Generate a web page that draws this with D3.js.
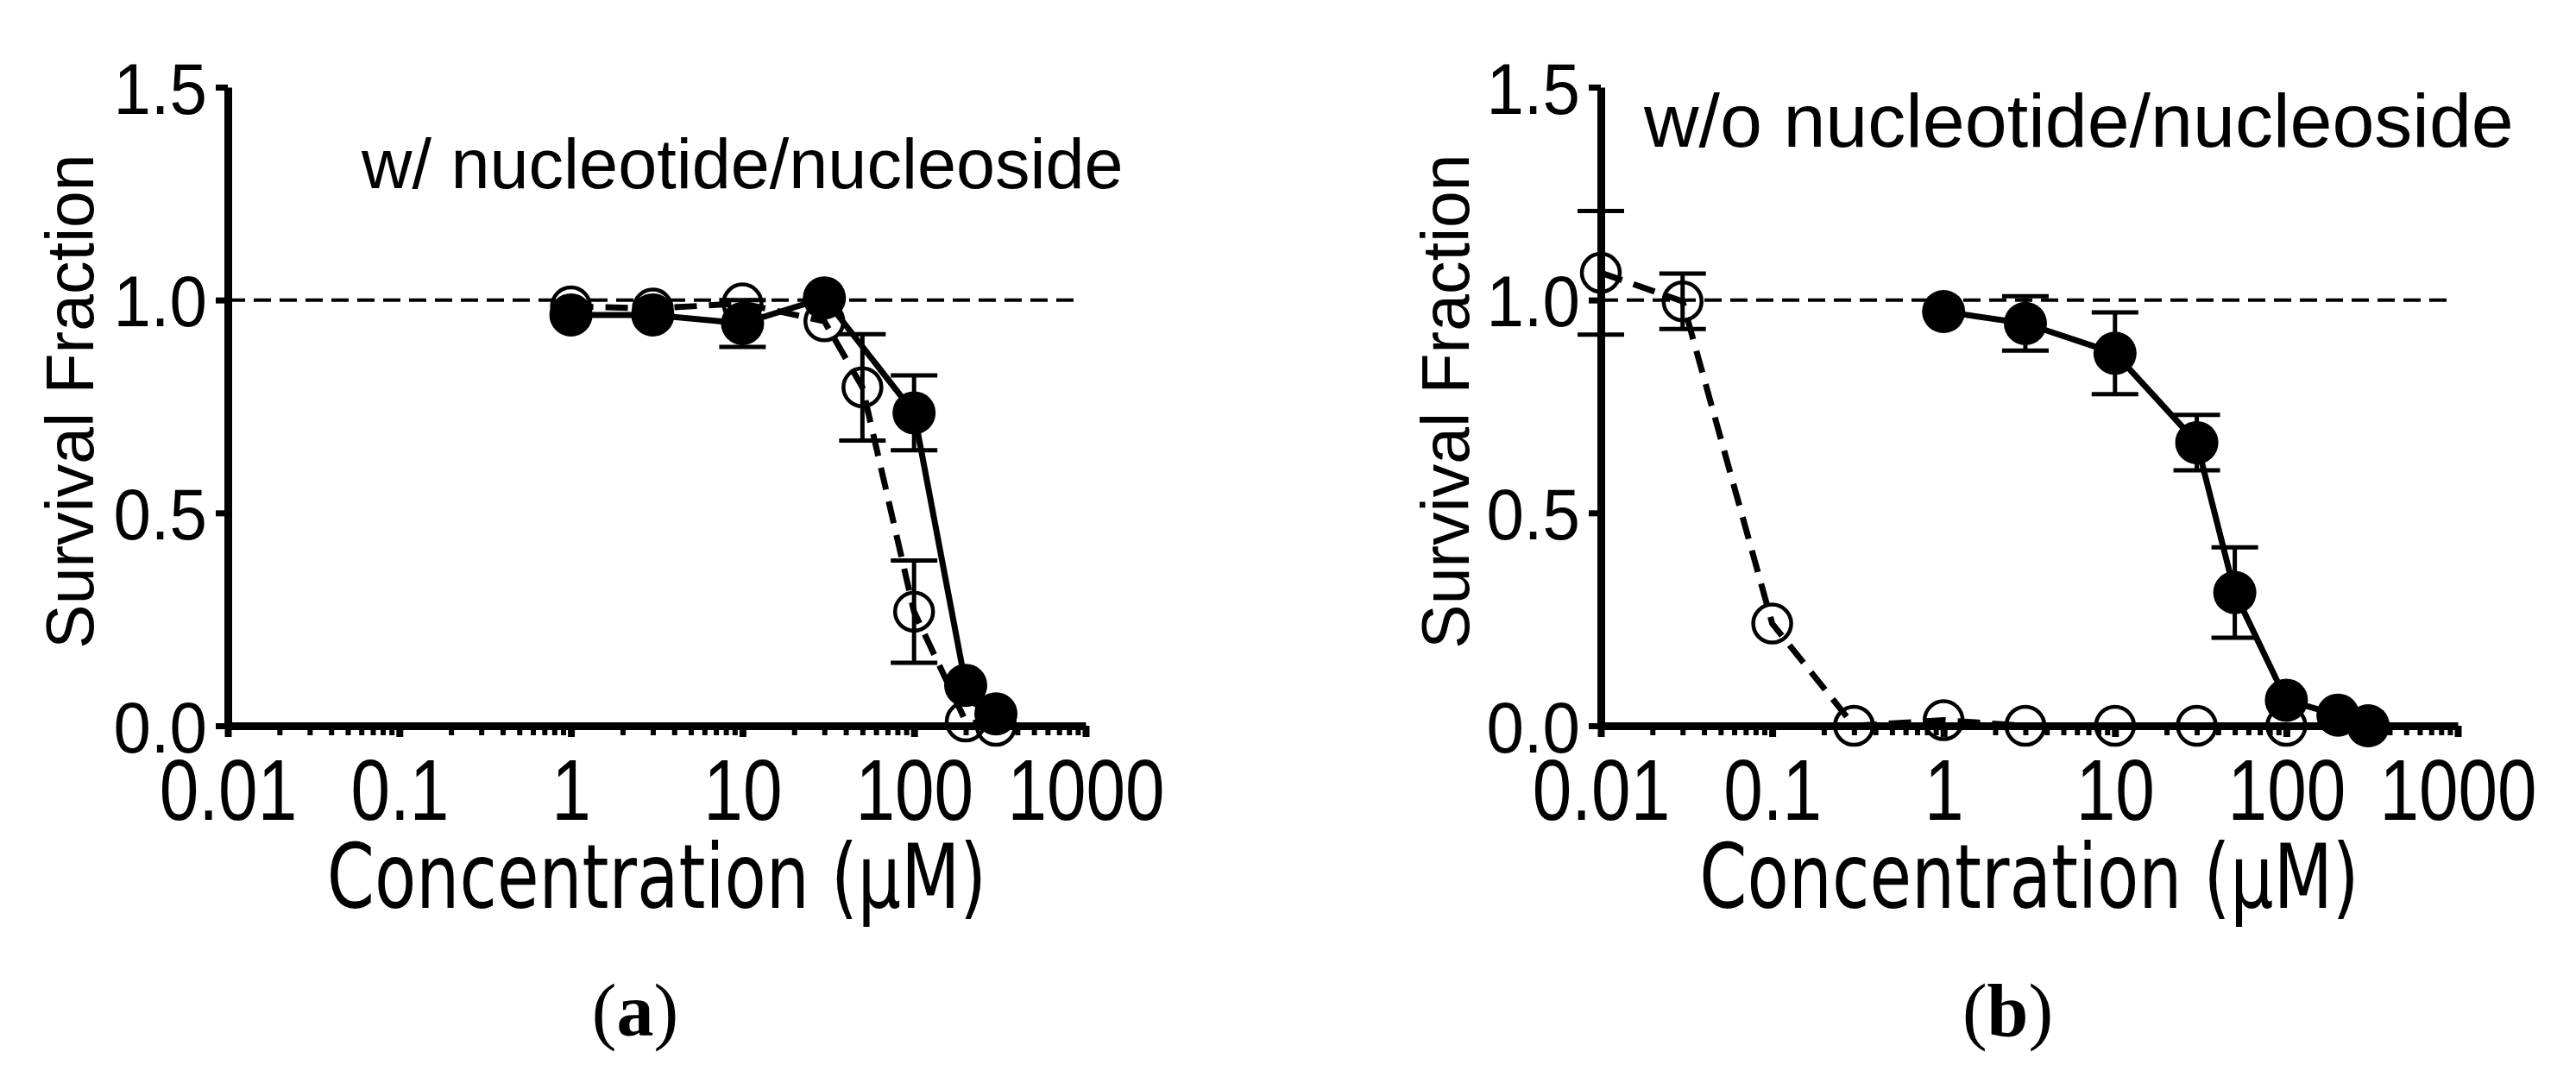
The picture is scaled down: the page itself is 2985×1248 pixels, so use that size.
<!DOCTYPE html>
<html>
<head>
<meta charset="utf-8">
<script src="https://cdn.jsdelivr.net/npm/d3@7"></script>
<style>
  body { margin: 0; background: #fff; }
  svg { display: block; }
</style>
</head>
<body>
<div class="content-container"></div>
<script>
// concentrations (uM)
var concA_filled = [1, 3, 10, 30, 100, 200, 300];
var survA_filled = [0.965, 0.965, 0.945, 1.005, 0.735, 0.095, 0.028];
var errA_filled  = [0, 0, 0.055, 0, 0.088, 0, 0];

var concA_open = [1, 3, 10, 30, 50, 100, 200, 300];
var survA_open = [0.985, 0.98, 0.992, 0.95, 0.795, 0.268, 0.01, 0.0];
var errA_open  = [0, 0, 0, 0, 0.125, 0.12, 0, 0];

var concB_filled = [1, 3, 10, 30, 50, 100, 200, 300];
var survB_filled = [0.973, 0.945, 0.875, 0.665, 0.313, 0.06, 0.025, 0.0];
var errB_filled  = [0, 0.064, 0.096, 0.065, 0.106, 0, 0, 0];

var concB_open = [0.01, 0.03, 0.1, 0.3, 1, 3, 10, 30, 100];
var survB_open = [1.064, 0.997, 0.24, 0.0, 0.013, 0.0, 0.0, 0.0, 0.0];
var errB_open  = [0.145, 0.065, 0, 0, 0, 0, 0, 0, 0];

var xTicks = [0.01, 0.1, 1, 10, 100, 1000];
var xTickLabels = ["0.01", "0.1", "1", "10", "100", "1000"];
var yTicks = [0, 0.5, 1.0, 1.5];

const width = 2985;
const height = 1248;

const svg = d3.select(".content-container")
  .append("svg")
  .attr("width", width)
  .attr("height", height);

svg.append("rect").attr("width", width).attr("height", height).attr("fill", "#fff");

function zip(c, s, e) {
  return c.map((v, i) => ({ x: v, y: s[i], e: e[i] }));
}

// minor ticks 2..9 per decade
var minorTicks = [];
[0.01, 0.1, 1, 10, 100].forEach(function (d) {
  for (var k = 2; k <= 9; k++) minorTicks.push(d * k);
});

const helv = "'Liberation Sans', Arial, Helvetica, sans-serif";

function drawPanel(left, right, title, titleX, titleY, titleSize, labelX, letter, openData, filledData) {
  const xScale = d3.scaleLog().domain([0.01, 1000]).range([left, right]);
  const yScale = d3.scaleLinear().domain([0, 1.5]).range([841, 101]);
  const g = svg.append("g");

  // minor ticks
  g.append("g")
    .attr("transform", "translate(0,841)")
    .call(d3.axisBottom(xScale).tickValues(minorTicks).tickSize(11).tickSizeOuter(0).tickFormat(""))
    .call(a => a.select(".domain").remove())
    .call(a => a.selectAll("line").attr("stroke", "#000").attr("stroke-width", 6));

  // x axis
  g.append("g")
    .attr("transform", "translate(0,841)")
    .call(d3.axisBottom(xScale).tickValues(xTicks).tickSize(13).tickSizeOuter(0).tickPadding(0)
      .tickFormat((d, i) => xTickLabels[i]))
    .call(a => a.select(".domain").attr("stroke", "#000").attr("stroke-width", 9))
    .call(a => a.selectAll("line").attr("stroke", "#000").attr("stroke-width", 8))
    .call(a => a.selectAll("text")
      .attr("y", 0).attr("dy", 0)
      .attr("transform", "translate(0,109) scale(0.9,1.1)")
      .attr("font-family", helv)
      .attr("font-size", 91)
      .attr("fill", "#000"));

  // y axis
  g.append("g")
    .attr("transform", "translate(" + left + ",0)")
    .call(d3.axisLeft(yScale).tickValues(yTicks).tickSize(14).tickSizeOuter(0).tickPadding(0)
      .tickFormat(d3.format(".1f")))
    .call(a => a.select(".domain").attr("stroke", "#000").attr("stroke-width", 9))
    .call(a => a.selectAll("line").attr("stroke", "#000").attr("stroke-width", 7))
    .call(a => a.selectAll("text")
      .attr("x", 0).attr("dy", "0.358em")
      .attr("transform", "translate(-24,0) scale(0.93,1)")
      .attr("font-family", helv)
      .attr("font-size", 84)
      .attr("fill", "#000"));

  // reference line at 1.0
  g.append("line")
    .attr("x1", xScale(0.01)).attr("x2", xScale(1000) - 8)
    .attr("y1", yScale(1)).attr("y2", yScale(1))
    .attr("stroke", "#000").attr("stroke-width", 4)
    .attr("stroke-dasharray", "20,10");

  const line = d3.line().x(d => xScale(d.x)).y(d => yScale(d.y));

  function series(data, filled) {
    const s = g.append("g");
    s.append("path")
      .datum(data)
      .attr("d", line)
      .attr("fill", "none")
      .attr("stroke", "#000")
      .attr("stroke-width", 7)
      .attr("stroke-dasharray", filled ? null : "26,14");

    const bars = s.selectAll(".err").data(data.filter(d => d.e > 0)).enter().append("g");
    bars.append("line")
      .attr("x1", d => xScale(d.x)).attr("x2", d => xScale(d.x))
      .attr("y1", d => yScale(d.y - d.e)).attr("y2", d => yScale(d.y + d.e))
      .attr("stroke", "#000").attr("stroke-width", 5);
    [-1, 1].forEach(function (sgn) {
      bars.append("line")
        .attr("x1", d => xScale(d.x) - 27).attr("x2", d => xScale(d.x) + 27)
        .attr("y1", d => yScale(d.y + sgn * d.e)).attr("y2", d => yScale(d.y + sgn * d.e))
        .attr("stroke", "#000").attr("stroke-width", 5);
    });

    s.selectAll("circle").data(data).enter().append("circle")
      .attr("cx", d => xScale(d.x))
      .attr("cy", d => yScale(d.y))
      .attr("r", filled ? 25 : 22)
      .attr("fill", filled ? "#000" : "none")
      .attr("stroke", "#000")
      .attr("stroke-width", filled ? 0 : 4.5);
  }

  series(openData, false);
  series(filledData, true);

  // title inside plot
  g.append("text")
    .attr("x", titleX).attr("y", titleY)
    .attr("font-family", helv)
    .attr("font-size", titleSize)
    .attr("fill", "#000")
    .text(title);

  // y label
  g.append("text")
    .attr("transform", "translate(" + labelX + ",465) rotate(-90)")
    .attr("text-anchor", "middle")
    .attr("font-family", helv)
    .attr("font-size", 77)
    .attr("fill", "#000")
    .text("Survival Fraction");

  // x label (condensed humanist sans)
  g.append("text")
    .attr("transform", "translate(" + ((left + right) / 2) + ",1052) scale(0.76,1)")
    .attr("text-anchor", "middle")
    .attr("font-family", "'DejaVu Sans', sans-serif")
    .attr("font-size", 104)
    .attr("fill", "#000")
    .text("Concentration (\u03bcM)");

  // panel letter
  const t = g.append("text")
    .attr("x", (left + right) / 2 - 25).attr("y", 1200)
    .attr("text-anchor", "middle")
    .attr("font-family", "'Liberation Serif', 'Times New Roman', serif")
    .attr("font-size", 86)
    .attr("fill", "#000");
  t.append("tspan").text("(");
  t.append("tspan").attr("font-weight", "bold").text(letter);
  t.append("tspan").text(")");
}

drawPanel(264, 1258, "w/ nucleotide/nucleoside", 419, 218, 81, 108, "a",
  zip(concA_open, survA_open, errA_open), zip(concA_filled, survA_filled, errA_filled));
drawPanel(1855, 2848, "w/o nucleotide/nucleoside", 1905, 170, 88, 1702, "b",
  zip(concB_open, survB_open, errB_open), zip(concB_filled, survB_filled, errB_filled));
</script>
</body>
</html>
